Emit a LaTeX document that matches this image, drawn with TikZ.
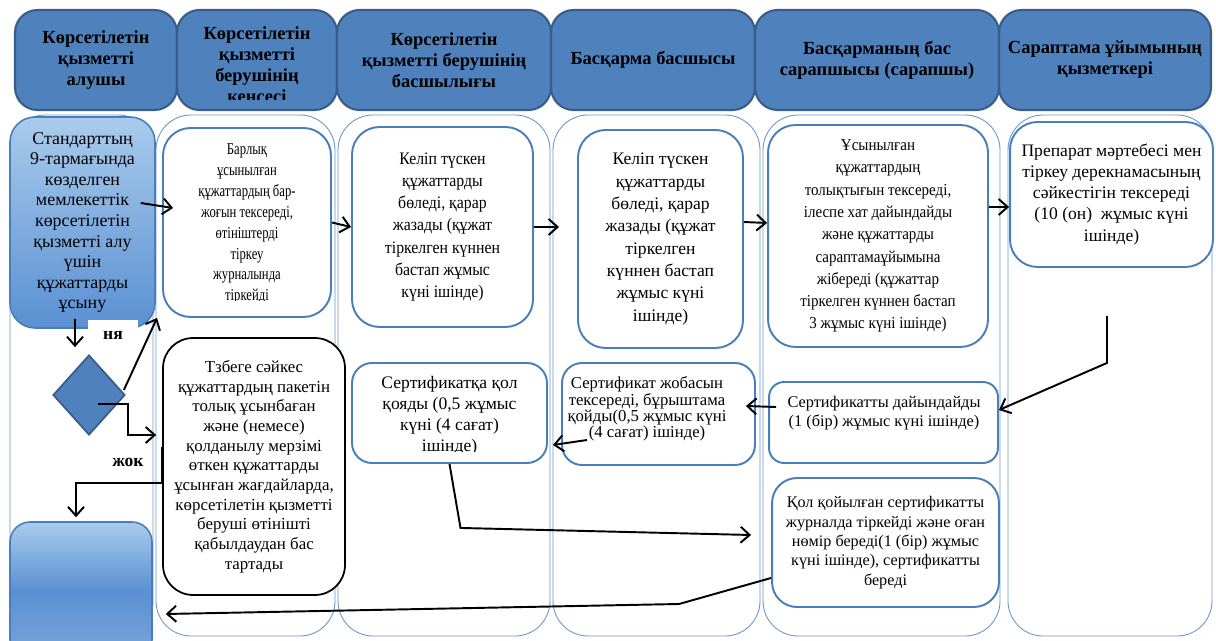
\documentclass[tikz,border=0pt]{standalone}
\usepackage{fontspec}
\setmainfont{Liberation Serif}
\newfontfamily\narrowa{Liberation Serif}[FakeStretch=0.76]
\newfontfamily\narrowb{Liberation Serif}[FakeStretch=0.9]
\usetikzlibrary{shapes.geometric,arrows.meta}
\definecolor{hdrblue}{HTML}{4F81BD}
\definecolor{hdrline}{HTML}{385D8A}
\definecolor{laneblue}{HTML}{6A96CC}
\definecolor{boxblue}{HTML}{4A7EBB}
\definecolor{paleblue}{HTML}{A9CBEC}
\definecolor{deepblue}{HTML}{5A90D2}

\begin{document}
\begin{tikzpicture}[x=0.02cm, y=-0.02cm,
    hdr/.style = {rectangle, rounded corners=0.45cm, draw=hdrline, line width=1.2pt,
      fill=hdrblue, align=center, inner sep=1pt, minimum height=2cm,
      font=\bfseries\fontsize{10.5}{12}\selectfont},
    lane/.style = {draw=laneblue, line width=0.5pt, rounded corners=0.7cm},
    proc/.style = {rectangle, rounded corners=0.55cm, draw=boxblue, line width=1.1pt,
      fill=white, align=center, inner sep=1pt},
    clientbox/.style = {rectangle, rounded corners=0.5cm, draw=boxblue, line width=0.9pt,
      top color=paleblue, bottom color=deepblue, align=center, inner sep=1pt},
    flow/.style = {line width=1.1pt, -{Straight Barb[length=1.8mm,width=3.2mm]}},
    tag/.style = {font=\bfseries\fontsize{10}{12}\selectfont, inner sep=1pt}]
  \useasboundingbox (0,0) rectangle (1216,641);

  % swimlanes
  \foreach \l/\r in {10/153,156/335,338/550,553/760,763/1000,1008/1212}
    \draw[lane] (\l,115) rectangle (\r,636);

  % headers
  \node[hdr, minimum width=3.24cm] (h1) at (96,60) {Көрсетілетін\\қызметті\\алушы};
  \node[hdr, minimum width=3.2cm] (h2) at (257,60) {};
  \begin{scope}
    \clip (177,10) rectangle (337,100);
    \node[align=center, font=\bfseries\fontsize{10.5}{12}\selectfont] at (257,66)
      {Көрсетілетін\\қызметті\\берушінің\\кеңсесі};
  \end{scope}
  \node[hdr, minimum width=4.28cm] (h3) at (444,60) {Көрсетілетін\\қызметті берушінің\\басшылығы};
  \node[hdr, minimum width=4.08cm] (h4) at (653,60) {Басқарма басшысы};
  \node[hdr, minimum width=4.88cm] (h5) at (877,60) {Басқарманың бас\\сарапшысы (сарапшы)};
  \node[hdr, minimum width=4.24cm] (h6) at (1105,60) {Сараптама ұйымының\\қызметкері};

  % first row
  \node[clientbox, minimum width=2.9cm, minimum height=4.22cm,
    font=\fontsize{10.2}{11.7}\selectfont] (s) at (82.5,222.5)
    {Стандарттың\\9-тармағында\\көзделген\\мемлекеттік\\көрсетілетін\\қызметті алу\\үшін\\құжаттарды\\ұсыну};
  \node[proc, minimum width=3.36cm, minimum height=3.78cm] (b2) at (247,222.5) {};
  \begin{scope}
    \clip (163,128) rectangle (331,301);
    \node[align=center, font=\narrowa\fontsize{9.5}{11.9}\selectfont] at (247,224)
      {Барлық\\ұсынылған\\құжаттардың бар-\\жоғын тексереді,\\өтініштерді\\тіркеу\\журналында\\тіркейді};
  \end{scope}
  \node[proc, minimum width=3.62cm, minimum height=4cm,
    font=\narrowb\fontsize{10}{12.7}\selectfont] (b3) at (442.5,227)
    {Келіп түскен\\құжаттарды\\бөледі, қарар\\жазады (құжат\\тіркелген күннен\\бастап жұмыс\\күні ішінде)};
  \node[proc, minimum width=3.3cm, minimum height=4.36cm,
    font=\fontsize{10}{12.7}\selectfont] (b4) at (660.5,239)
    {Келіп түскен\\құжаттарды\\бөледі, қарар\\жазады (құжат\\тіркелген\\күннен бастап\\жұмыс күні\\ішінде)};
  \node[proc, minimum width=4.4cm, minimum height=4.44cm,
    font=\narrowb\fontsize{9.5}{12.7}\selectfont] (b5) at (878,236)
    {Ұсынылған\\құжаттардың\\толықтығын тексереді,\\ілеспе хат дайындайды\\және құжаттарды\\сараптамаұйымына\\жібереді (құжаттар\\тіркелген күннен бастап\\3 жұмыс күні ішінде)};
  \node[proc, minimum width=4.06cm, minimum height=2.9cm,
    font=\fontsize{10}{12}\selectfont] (b6) at (1111.5,194.5)
    {Препарат мәртебесі мен\\тіркеу дерекнамасының\\сәйкестігін тексереді\\(10 (он)\ \ жұмыс күні\\ішінде)};

  % decision
  \node[diamond, draw=hdrline, fill=hdrblue, line width=1pt, inner sep=0pt,
    minimum width=1.44cm, minimum height=1.6cm] (d) at (89,395) {};
  \node[tag, fill=white, minimum width=1cm, minimum height=0.6cm] (yes) at (113,335) {ня};
  \node[tag] (no) at (128,462) {жок};

  % second row
  \node[proc, draw=black, line width=1pt, rounded corners=0.6cm,
    minimum width=3.64cm, minimum height=5.14cm,
    font=\fontsize{9.6}{11.2}\selectfont] (r) at (254,466.5)
    {Тзбеге сәйкес\\құжаттардың пакетін\\толық ұсынбаған\\және (немесе)\\қолданылу мерзімі\\өткен құжаттарды\\ұсынған жағдайларда,\\көрсетілетін қызметті\\беруші өтінішті\\қабылдаудан бас\\тартады};
  \node[proc, rounded corners=0.4cm, minimum width=3.9cm, minimum height=2cm] (c3) at (449.5,413) {};
  \begin{scope}
    \clip (352,363) rectangle (547,451);
    \node[align=center, font=\fontsize{10}{12}\selectfont] at (449.5,416)
      {Сертификатқа қол\\қояды (0,5 жұмыс\\күні (4 сағат)\\ішінде)};
  \end{scope}
  \node[proc, rounded corners=0.4cm, minimum width=3.86cm, minimum height=2.04cm] (c4) at (658.5,414) {};
  \node[align=center, font=\fontsize{9.5}{9.2}\selectfont] at (647,409)
    {Сертификат жобасын\\тексереді, бұрыштама\\қойды(0,5 жұмыс күні\\(4 сағат) ішінде)};
  \node[proc, rounded corners=0.3cm, minimum width=4.58cm, minimum height=1.62cm] (c5) at (883.5,422.5) {};
  \node[align=center, font=\fontsize{9.3}{10.8}\selectfont] at (884,413)
    {Сертификатты дайындайды\\(1 (бір) жұмыс күні ішінде)};
  \node[proc, rounded corners=0.5cm, minimum width=4.54cm, minimum height=2.58cm,
    font=\fontsize{9.2}{11}\selectfont] (d5) at (885.5,542.5)
    {Қол қойылған сертификатты\\журналда тіркейді және оған\\нөмір береді(1 (бір) жұмыс\\күні ішінде), сертификатты\\береді};
  \node[clientbox, rounded corners=0.4cm, minimum width=2.84cm, minimum height=2.76cm,
    top color=paleblue, bottom color=deepblue!80, middle color=deepblue] (f) at (81,591) {};

  % connectors
  \draw[flow] ([xshift=-0.3cm,yshift=0.39cm]s.east) -- ([xshift=0.22cm,yshift=0.29cm]b2.west);
  \draw[flow] (b2.east) -- (b3.west);
  \draw[flow] (b3.east) -- ([xshift=-0.36cm,yshift=0.24cm]b4.west);
  \draw[flow] ([yshift=0.34cm]b4.east) -- ([yshift=0.26cm]b5.west);
  \draw[flow] ([yshift=0.58cm]b5.east) -- ([yshift=-0.25cm]b6.west);
  \draw[flow] ([xshift=-0.09cm,yshift=-0.96cm]b6.south) -- ++(0,47) -- ([yshift=0.25cm]c5.east);
  \draw[flow] ([xshift=0.16cm,yshift=0.31cm]c5.west) -- ([xshift=-0.2cm,yshift=0.16cm]c4.east);
  \draw[flow] ([xshift=0.52cm,yshift=-0.52cm]c4.west) -- ([xshift=0.1cm,yshift=-0.64cm]c3.east);
  \draw[flow] (c3.south) -- ++(11,64) -- ([xshift=-0.4cm,yshift=0.15cm]d5.west);
  \draw[flow] ([yshift=-0.71cm]d5.west) -- ++(-92,26) -- ([xshift=0.26cm,yshift=-0.46cm]f.east);
  \draw[flow] ([xshift=-0.15cm,yshift=0.2cm]s.south) -- ([xshift=-0.28cm,yshift=0.14cm]d.north);
  \draw[flow] ([xshift=-0.04cm,yshift=0.1cm]d.east) -- ([xshift=-0.1cm]b2.south west);
  \draw[flow] ([xshift=0.18cm,yshift=-0.18cm]d.center) -- ++(30,0) |- ([xshift=-0.12cm,yshift=0.63cm]r.west);
  \draw[flow] ([yshift=0.39cm]r.west) -- ++(0,36) -| ([xshift=-0.1cm,yshift=0.08cm]f.north);
\end{tikzpicture}
\end{document}
